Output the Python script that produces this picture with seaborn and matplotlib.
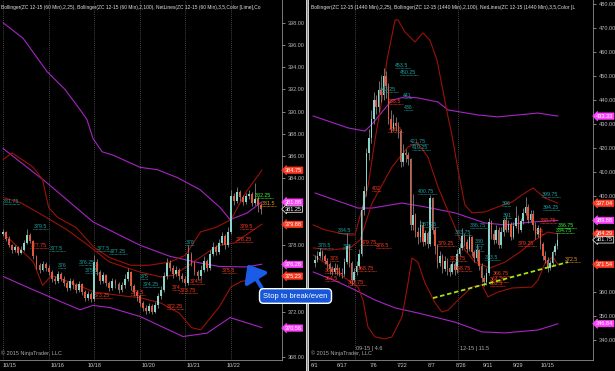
import numpy as np
import pandas as pd
import matplotlib.pyplot as plt
import seaborn as sns
from matplotlib.patches import Rectangle, FancyArrowPatch

sns.set_style('dark', {'axes.facecolor': 'black', 'figure.facecolor': 'black'})
plt.rcParams['font.family'] = ['Liberation Sans', 'DejaVu Sans']

# ---------------- left panel: ZC 12-15 (60 Min) ----------------
l_close = [379.2, 378.6, 378.0, 377.6, 377.8, 377.3, 377.6, 378.2, 378.9, 378.4, 377.0, 376.2, 375.8, 376.3, 376.0,
           375.6, 375.0, 374.8, 375.4, 375.0, 374.6, 374.2, 374.8, 374.4, 374.0, 374.5, 373.8, 373.3, 373.6, 373.2,
           376.5, 375.6, 374.8, 375.3, 374.6, 374.2, 374.8, 374.5, 374.0, 374.4, 375.0, 375.6, 374.3, 373.8, 373.4,
           372.8, 372.4, 372.1, 372.5, 372.0, 372.6, 373.4, 374.0, 375.2, 376.4, 376.0, 375.4, 375.8, 375.2, 375.0,
           374.6, 377.2, 376.4, 375.6, 375.2, 375.8, 376.6, 376.0, 377.2, 377.8, 377.4, 378.2, 378.8, 378.0, 379.2,
           382.4, 382.0, 382.8, 382.3, 381.9, 382.4, 382.6, 381.8, 382.2, 381.6, 381.25]
l_high = [379.5, 379.3, 378.8, 378.1, 378.0, 377.9, 377.9, 378.5, 379.5, 379.1, 378.5, 377.1, 376.4, 376.6, 376.5,
          376.2, 375.8, 375.2, 375.7, 375.6, 375.2, 374.8, 375.1, 375.0, 374.6, 374.8, 374.6, 374.0, 373.9, 373.8,
          377.1, 376.8, 375.8, 375.6, 375.4, 374.8, 375.1, 375.0, 374.7, 374.7, 375.4, 376.0, 375.7, 374.5, 374.0,
          373.6, 373.0, 372.6, 372.8, 372.7, 372.9, 373.7, 374.3, 375.6, 376.9, 376.7, 376.2, 376.1, 376.0, 375.5,
          375.2, 378.0, 377.4, 376.6, 375.8, 376.2, 377.0, 376.8, 377.6, 378.3, 378.0, 378.6, 379.2, 379.0, 379.6,
          383.0, 382.7, 383.2, 383.0, 382.5, 382.7, 383.0, 382.8, 383.6, 382.4, 381.8]
l_low = [378.8, 378.4, 377.8, 377.3, 377.4, 377.1, 377.2, 377.5, 378.1, 378.2, 376.8, 375.9, 375.5, 375.7, 375.7,
         375.3, 374.7, 374.5, 374.6, 374.8, 374.3, 373.9, 374.0, 374.1, 373.7, 373.8, 373.5, 373.0, 373.1, 372.9,
         373.0, 375.3, 374.5, 374.6, 374.3, 373.9, 374.0, 374.2, 373.7, 373.8, 374.2, 374.8, 374.0, 373.4, 373.0,
         372.5, 372.1, 371.8, 371.9, 371.8, 371.9, 372.4, 373.2, 373.8, 375.0, 375.7, 375.1, 375.2, 374.9, 374.7,
         374.3, 374.4, 376.1, 375.3, 374.9, 375.0, 375.6, 375.7, 375.8, 377.0, 377.1, 377.2, 378.0, 377.7, 377.8,
         379.0, 381.6, 381.8, 382.0, 381.6, 381.7, 382.2, 381.5, 381.6, 381.0, 380.8]
l_open = [379.0] + l_close[:-1]

l_bb100_up_x = [0, 6.6, 14.5, 20.4, 25.3, 27.6, 29.6, 32.6, 36.2, 45.1, 50.7, 57.2, 64.8, 71.4, 74.7, 80.3, 85.2]
l_bb100_up_y = [398.0, 396.6, 393.6, 392.0, 390.2, 389.3, 387.6, 386.4, 386.1, 385.0, 384.8, 384.1, 383.0, 381.4,
                380.3, 380.9, 381.9]
l_bb100_mid_x = [0, 14.5, 29.6, 45.1, 55, 65, 71, 80, 85.2]
l_bb100_mid_y = [386.7, 383.6, 380.1, 378.0, 377.0, 376.4, 376.1, 376.05, 376.3]
l_bb100_lo_x = [0, 9.9, 25.3, 29.6, 35.2, 45.1, 59.2, 67.1, 74.7, 85.2]
l_bb100_lo_y = [375.2, 374.0, 372.2, 372.6, 372.4, 371.6, 369.8, 370.1, 371.5, 370.6]

l_bb25_up_x = [0, 3, 10, 13, 15, 18, 24, 30, 35, 42, 48, 55, 60, 65, 70, 75, 80, 85.2]
l_bb25_up_y = [385.7, 386.3, 385.0, 383.9, 381.4, 380.5, 379.6, 377.8, 376.9, 376.2, 376.2, 376.5, 377.1, 379.2,
               379.6, 380.3, 382.8, 384.75]
l_bb25_mid_x = [0, 6, 13, 21, 28, 35, 45, 52, 56, 60, 67, 71, 76, 85.2]
l_bb25_mid_y = [382.3, 381.8, 380.7, 379.4, 378.0, 376.5, 375.6, 375.15, 375.3, 376.0, 377.3, 378.0, 378.2, 379.9]
l_bb25_lo_x = [0, 10, 13, 16, 26, 30, 41, 45, 52, 58, 62, 65, 71, 75, 78, 85.2]
l_bb25_lo_y = [379.1, 376.5, 374.4, 375.3, 374.25, 373.8, 373.4, 373.3, 372.8, 371.9, 370.6, 370.4, 372.4, 374.25,
               374.7, 375.23]

l_day_lines = [0, 15, 30, 45, 60, 75]
l_date_pos = [2, 17.8, 30, 48, 62.8, 75.7]
l_date_txt = ['10/15', '10/16', '10/18', '10/20', '10/21', '10/22']

# NetLines tags: bar, text, kind
l_tag_bar = [0, 10, 9, 15.5, 31, 35, 18, 25, 27, 30, 45, 46, 42, 54, 55.5, 61.5, 58, 72, 60, 78, 76.5, 83, 85]
l_tag_txt = ['381.75', '379.5', '377.75', '377.5', '377.5', '377.25', '376', '376.25', '375.5', '373.25', '375',
             '374.25', '373.5', '372.25', '374', '374.5', '373.75', '375.5', '378', '379.5', '378.25', '382.25',
             '381.5']
l_tag_kind = ['c', 'c', 'r', 'c', 'c', 'c', 'c', 'c', 'c', 'r', 'c', 'c', 'r', 'r', 'r', 'r', 'r', 'r', 'c', 'r',
              'r', 'g', 'o']

l_axis_val = [384.75, 381.88, 381.25, 379.88, 376.28, 375.23, 370.56]
l_axis_kind = ['r', 'm', 'w', 'r', 'm', 'r', 'm']

# ---------------- right panel: ZC 12-15 (1440 Min) ----------------
r_close = [373.5, 375.0, 376.8, 375.2, 373.0, 371.5, 369.8, 368.5, 370.2, 369.0,
           368.0, 367.5, 372.5, 379.0, 372.0, 365.0, 368.5, 371.0, 376.0, 394.0,
           402.0, 418.0, 424.0, 432.0, 440.0, 437.0, 444.0, 442.0, 450.0, 446.0,
           432.0, 428.0, 430.5, 429.0, 427.0, 414.0, 418.0, 417.0, 415.5, 388.0,
           392.0, 385.0, 383.0, 388.0, 381.0, 384.5, 380.0, 399.0, 386.0, 379.0,
           372.0, 375.0, 369.5, 373.0, 370.0, 368.5, 371.5, 369.0, 376.0, 378.5,
           383.5, 381.0, 378.0, 383.0, 376.5, 374.0, 377.5, 371.0, 366.0, 364.0,
           368.0, 389.0, 384.0, 381.5, 386.0, 379.5, 385.0, 390.0, 386.0, 388.5,
           383.0, 387.5, 391.0, 386.0, 389.5, 393.0, 395.5, 390.0, 392.5, 388.0,
           384.0, 386.5, 380.0, 375.0, 373.5, 370.0, 372.0, 376.5, 379.0, 381.75]
r_high = [375.5, 377.0, 378.5, 377.5, 376.0, 374.0, 372.5, 371.0, 372.0, 371.5,
          370.5, 370.0, 374.0, 384.5, 380.0, 373.0, 370.0, 373.0, 378.0, 396.0,
          404.0, 420.0, 428.0, 436.0, 443.25, 442.0, 448.0, 450.25, 453.5, 452.0,
          447.0, 436.0, 434.0, 433.0, 431.0, 428.0, 421.75, 419.5, 418.5, 416.0,
          400.75, 393.0, 387.25, 390.0, 389.0, 386.0, 385.5, 400.5, 399.5, 387.0,
          380.0, 377.0, 376.0, 375.0, 374.0, 371.5, 373.0, 372.5, 378.0, 380.5,
          386.75, 384.5, 382.0, 384.0, 383.5, 377.5, 380.0, 378.0, 372.0, 367.0,
          370.0, 391.0, 390.0, 386.0, 388.0, 387.0, 387.0, 391.0, 391.5, 390.0,
          389.0, 389.0, 396.0, 392.0, 391.0, 395.0, 399.75, 396.5, 394.0, 394.25,
          389.0, 388.0, 387.0, 381.0, 377.0, 374.5, 373.5, 377.5, 380.5, 384.75]
r_low = [370.5, 372.5, 374.0, 373.5, 371.5, 370.0, 367.5, 367.0, 367.5, 367.0,
         366.5, 366.0, 366.5, 371.5, 370.5, 362.75, 364.0, 367.0, 370.0, 375.0,
         392.0, 400.0, 415.0, 422.0, 430.0, 434.0, 435.0, 439.0, 440.0, 441.0,
         430.0, 426.5, 427.0, 427.0, 424.0, 412.0, 412.5, 414.0, 413.0, 386.0,
         386.0, 383.0, 380.0, 381.0, 379.0, 379.5, 378.5, 379.0, 384.0, 376.0,
         370.0, 371.0, 368.0, 368.75, 367.0, 366.75, 367.5, 367.0, 368.0, 375.0,
         377.5, 379.0, 376.5, 377.0, 375.0, 372.5, 373.0, 369.0, 364.0, 362.5,
         363.0, 367.0, 382.0, 380.0, 380.5, 378.5, 378.5, 383.5, 385.0, 385.0,
         381.5, 382.0, 386.5, 384.5, 385.0, 388.5, 392.0, 388.75, 389.0, 386.0,
         382.0, 383.0, 378.0, 373.5, 372.0, 368.5, 369.0, 371.0, 375.5, 378.0]
r_open = [372.0] + r_close[:-1]

r_bb100_up_x = [-0.8, 4.1, 13.5, 20.4, 23.3, 31.4, 36.7, 42, 50.2, 54.3, 66.5, 74.7, 91, 99.2]
r_bb100_up_y = [433.4, 431.7, 428.4, 427.1, 430.0, 440.0, 441.3, 440.9, 439.2, 435.9, 433.8, 433.0, 434.6, 433.3]
r_bb100_mid_x = [0, 17.6, 23.3, 35.5, 44.9, 57.1, 69.4, 77.6, 88.6, 99.2]
r_bb100_mid_y = [401.3, 395.0, 395.0, 397.1, 395.5, 393.0, 388.8, 388.0, 389.2, 389.9]
r_bb100_lo_x = [-0.8, 9.4, 16.3, 24.5, 32.7, 42, 57.1, 68.2, 77.6, 91, 99.2]
r_bb100_lo_y = [368.4, 364.2, 360.9, 356.7, 353.4, 351.3, 347.5, 343.4, 343.0, 344.2, 346.8]

r_bb25_up_x = [-0.8, 4.1, 13.5, 16.3, 21.6, 24.5, 27.3, 29.4, 32.7, 33.9, 36.7, 40.8, 44.1, 46.9, 49.8, 52.2, 54.3,
               55.9, 58.4, 61.2, 64.1, 69.4, 74.7, 80.4, 85.7, 89, 93.9, 99.2]
r_bb25_up_y = [388.0, 385.9, 383.8, 383.8, 403.8, 423.4, 440.0, 456.7, 473.4, 473.4, 468.4, 464.2, 468.0, 465.0,
               456.7, 444.2, 433.0, 425.5, 410.9, 396.3, 393.0, 393.4, 395.5, 397.5, 401.3, 403.4, 399.2, 397.04]
r_bb25_mid_x = [-0.8, 6.1, 14.3, 18.4, 23.3, 31.4, 38, 42, 46.1, 50.2, 55.9, 61.2, 65.3, 71.4, 77.6, 83.7, 89.8,
                95.1, 99.2]
r_bb25_mid_y = [378.4, 377.5, 378.4, 381.7, 397.1, 412.1, 420.5, 422.1, 416.3, 403.8, 390.0, 377.5, 372.5, 370.0,
                372.5, 376.7, 381.7, 385.0, 384.29]
r_bb25_lo_x = [-0.8, 4.1, 12.2, 17.6, 19.6, 21.6, 24.5, 28.6, 31.4, 35.5, 38, 39.6, 42, 44.9, 49, 51.8, 54.3, 58.4,
               64.1, 68.2, 70.6, 74.7, 80.4, 88.6, 91, 93.9, 97.1, 99.2]
r_bb25_lo_y = [375.5, 372.1, 365.9, 362.1, 356.7, 345.5, 341.3, 340.5, 341.3, 349.6, 363.8, 374.2, 372.5, 363.8,
               355.5, 351.7, 352.5, 356.7, 362.1, 363.0, 358.0, 360.0, 361.7, 362.1, 365.0, 372.1, 374.6, 371.54]

r_trend_x = [48.2, 103.3]
r_trend_y = [357.5, 372.5]

r_roll_lines = [16.3, 58.4]
r_roll_txt = ['09-15 | 4.6', '12-15 | 11.5']
r_date_pos = [0, 11, 23.7, 35.5, 47.8, 59.6, 70.6, 82.9, 95.1]
r_date_txt = ['6/1', '6/17', '7/6', '7/22', '8/7', '8/26', '9/11', '9/29', '10/15']

r_tag_bar = [32.7, 34.7, 26.5, 36, 29.8, 30, 36.5, 38.8, 39.6, 42, 23.3, 43, 9.4, 1.2, 11.4, 18.5, 25, 50.2, 6,
             4, 4, 17.6, 13.5, 57, 57, 63.3, 65.3, 65.3, 55, 69.4, 72.7, 71.4, 71.4, 76.3, 76.7, 82.9, 91.8, 89.8,
             92.7, 93, 99.2, 98.4, 102]
r_tag_txt = ['453.5', '450.25', '443.25', '441', '438.5', '426.5', '436', '421.75', '419.25', '400.75', '402',
             '387.25', '384.5', '378.5', '378', '379.75', '378.5', '379.25', '373', '367.75', '364.5', '368.75',
             '362.75', '368.75', '383.75', '386.75', '380', '377', '372.75', '373.5', '366.75', '364.25', '362.5',
             '396', '391', '379.25', '388.75', '384', '399.75', '394.25', '386.75', '384.75', '372.5']
r_tag_kind = ['c', 'c', 'c', 'c', 'r', 'r', 'c', 'c', 'c', 'c', 'r', 'c', 'c', 'c', 'c', 'r', 'r', 'r', 'r',
              'r', 'r', 'r', 'r', 'r', 'c', 'c', 'c', 'c', 'r', 'c', 'r', 'r', 'r', 'c', 'c', 'r', 'r', 'r',
              'c', 'c', 'g', 'g', 'o']

r_axis_val = [433.33, 397.04, 389.88, 384.29, 381.75, 371.54, 346.84]
r_axis_kind = ['m', 'r', 'm', 'r', 'w', 'r', 'm']

UP = '#86d6cc'
DN = '#e5573c'
WICK = '#9a9a9a'
MAG = '#a824c4'
RED = '#9a1208'
TAGCOL = {'c': '#1fa3a3', 'r': '#ff3b1f', 'g': '#33ff33', 'o': '#e8961a'}
BOXCOL = {'r': '#ff3a22', 'm': '#ff44ff', 'w': 'black'}

W, H = 615, 371
fig = plt.figure(figsize=(W / 100, H / 100), dpi=100)
fig.patch.set_facecolor('black')


def fx(px):
    return px / W


def fy(py):
    return 1 - py / H


axl = fig.add_axes([fx(0), fy(360), fx(282), 360 / H])
axr = fig.add_axes([fx(310), fy(360), fx(283), 360 / H])


def candles(ax, o, h, lo, c, width):
    o = np.array(o)
    c = np.array(c)
    x = np.arange(len(c))
    up = c >= o
    ax.vlines(x, lo, h, color=WICK, lw=0.5, zorder=3)
    body = np.maximum(np.abs(c - o), 0.04)
    ax.bar(x[up], body[up], bottom=o[up], width=width, color=UP, lw=0, zorder=4)
    ax.bar(x[~up], body[~up], bottom=c[~up], width=width, color=DN, lw=0, zorder=4)


def band(ax, xs, ys, color):
    df = pd.DataFrame({'x': xs, 'y': ys})
    sns.lineplot(data=df, x='x', y='y', ax=ax, color=color, lw=0.8, estimator=None, sort=False, zorder=2)


def tags(ax, bars, txts, kinds, per_char):
    for b, t, k in zip(bars, txts, kinds):
        v = float(t)
        col = TAGCOL[k]
        ax.text(b, v, t, color=col, fontsize=3.8, ha='left', va='bottom', zorder=6)
        ax.plot([b, b + per_char * len(t)], [v, v], color=col, lw=0.6, ls=(0, (0.8, 0.8)), zorder=6)


def axis_boxes(ax, vals, kinds):
    for v, k in zip(vals, kinds):
        ec = 'white' if k == 'w' else BOXCOL[k]
        ax.annotate(f'{v:.2f}', xy=(1, v), xycoords=('axes fraction', 'data'), xytext=(2.2, 0),
                    textcoords='offset points', ha='left', va='center', fontsize=4, color='white',
                    bbox=dict(boxstyle='larrow,pad=0.12', fc=BOXCOL[k], ec=ec, lw=0.5),
                    annotation_clip=False, zorder=10)


def style(ax, ylo, yhi, ystep, xlim, boxes, gap):
    ax.set_facecolor('black')
    ax.grid(False)
    ax.set_xlim(*xlim)
    ax.set_ylim(ylo, yhi)
    ticks = np.arange(np.ceil(ylo / ystep) * ystep, yhi - ystep / 10, ystep)
    # the price boxes cover the tick labels next to them
    ticks = [t for t in ticks if min(abs(t - b) for b in boxes) > gap]
    ax.set_yticks(ticks)
    ax.set_yticklabels([f'{t:.2f}' for t in ticks])
    ax.yaxis.tick_right()
    ax.tick_params(axis='y', colors='#b8b8b8', labelsize=4, length=2.5, width=0.5, pad=1.5)
    ax.tick_params(axis='x', colors='#c8c8c8', labelsize=4, length=0, pad=2.5)
    for s in ['left', 'top']:
        ax.spines[s].set_visible(False)
    for s in ['right', 'bottom']:
        ax.spines[s].set_color('#8c8c8c')
        ax.spines[s].set_linewidth(0.6)
    ax.set_xlabel('')
    ax.set_ylabel('')


# left panel
for d in l_day_lines:
    axl.axvline(d, color='#5c5c5c', lw=0.6, ls=(0, (1, 1.5)), zorder=1)
band(axl, l_bb100_up_x, l_bb100_up_y, MAG)
band(axl, l_bb100_mid_x, l_bb100_mid_y, MAG)
band(axl, l_bb100_lo_x, l_bb100_lo_y, MAG)
band(axl, l_bb25_up_x, l_bb25_up_y, RED)
band(axl, l_bb25_mid_x, l_bb25_mid_y, RED)
band(axl, l_bb25_lo_x, l_bb25_lo_y, RED)
candles(axl, l_open, l_high, l_low, l_close, 0.62)
tags(axl, l_tag_bar, l_tag_txt, l_tag_kind, 0.95)
style(axl, 367.69, 400.04, 2, (-1, 91.8), l_axis_val, 0.6)
axl.set_xticks(l_date_pos)
axl.set_xticklabels(l_date_txt)
axis_boxes(axl, l_axis_val, l_axis_kind)
axl.text(0.004, 0.985, 'Bollinger(ZC 12-15 (60 Min),2,25), Bollinger(ZC 12-15 (60 Min),2,100), '
         'NetLines(ZC 12-15 (60 Min),3,5,Color [Lime],Co',
         transform=axl.transAxes, fontsize=3.5, color='#e0e0e0', ha='left', va='top')
axl.text(0.003, 0.012, '\u00a9 2015 NinjaTrader, LLC', transform=axl.transAxes, fontsize=4, color='#a8a8a8',
         ha='left', va='bottom')

# right panel
for d in r_roll_lines:
    axr.axvline(d, color='#5c5c5c', lw=0.6, ls=(0, (1, 1.5)), zorder=1)
band(axr, r_bb100_up_x, r_bb100_up_y, MAG)
band(axr, r_bb100_mid_x, r_bb100_mid_y, MAG)
band(axr, r_bb100_lo_x, r_bb100_lo_y, MAG)
band(axr, r_bb25_up_x, r_bb25_up_y, RED)
band(axr, r_bb25_mid_x, r_bb25_mid_y, RED)
band(axr, r_bb25_lo_x, r_bb25_lo_y, RED)
candles(axr, r_open, r_high, r_low, r_close, 0.62)
sns.lineplot(x=r_trend_x, y=r_trend_y, ax=axr, color='#a8e010', lw=1.3, ls=(0, (2.5, 1.5)), zorder=7)
tags(axr, r_tag_bar, r_tag_txt, r_tag_kind, 1.2)
style(axr, 331.7, 481.7, 10, (-2.04, 113.5), r_axis_val, 2.0)
axr.set_xticks(r_date_pos)
axr.set_xticklabels(r_date_txt)
axis_boxes(axr, r_axis_val, r_axis_kind)
for d, t in zip(r_roll_lines, r_roll_txt):
    axr.text(d + 0.6, 336.5, t, fontsize=4, color='#b0b0b0', ha='left', va='center')
axr.text(0.004, 0.985, 'Bollinger(ZC 12-15 (1440 Min),2,25), Bollinger(ZC 12-15 (1440 Min),2,100), '
         'NetLines(ZC 12-15 (1440 Min),3,5,Color [L',
         transform=axr.transAxes, fontsize=3.6, color='#e0e0e0', ha='left', va='top')
axr.text(0.003, 0.012, '\u00a9 2015 NinjaTrader, LLC', transform=axr.transAxes, fontsize=4, color='#a8a8a8',
         ha='left', va='bottom')

# separator between the two charts
fig.add_artist(Rectangle((fx(305.5), 0), fx(3.5), 1, transform=fig.transFigure, fc='#d0d0d0', ec='none'))
fig.add_artist(Rectangle((fx(307), 0), fx(0.8), 1, transform=fig.transFigure, fc='#8a8a8a', ec='none'))

# callout
arrow = FancyArrowPatch((fx(263), fy(290)), (fx(246), fy(262)), transform=fig.transFigure,
                        arrowstyle='-|>,head_width=2.6,head_length=3.2', mutation_scale=3,
                        color='#1a5ce6', lw=2.8, zorder=20)
fig.add_artist(arrow)
fig.text(fx(295.5), fy(296), 'Stop to break/even', ha='center', va='center', fontsize=5.5, color='white',
         zorder=21, bbox=dict(boxstyle='round,pad=0.5,rounding_size=0.55', fc='#1757d8', ec='white', lw=1.0))

fig.savefig('out.png', dpi=100, facecolor='black')
